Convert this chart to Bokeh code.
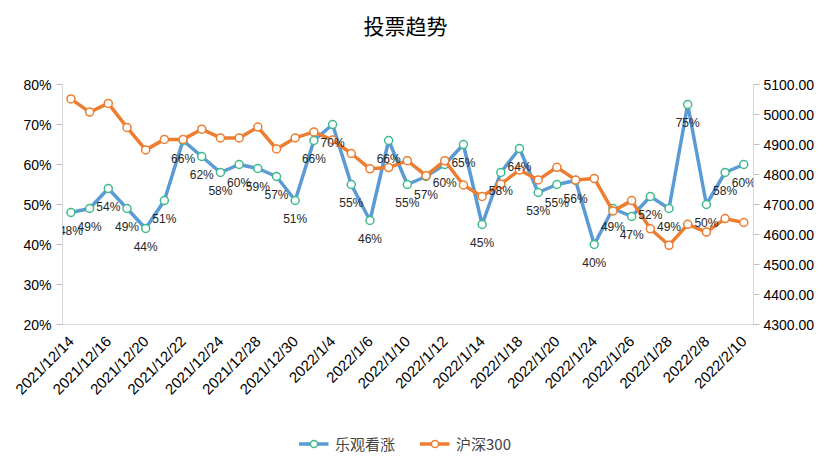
import math
from bokeh.plotting import figure
from bokeh.layouts import column
from bokeh.models import (ColumnDataSource, Range1d, LinearAxis, FixedTicker, Div,
                          PrintfTickFormatter, NumeralTickFormatter, LabelSet, Legend, LegendItem)
from bokeh.core.properties import value
from bokeh.embed import file_html
from bokeh.resources import INLINE

dates = ["2021/12/14", "2021/12/15", "2021/12/16", "2021/12/17", "2021/12/20", "2021/12/21",
         "2021/12/22", "2021/12/23", "2021/12/24", "2021/12/27", "2021/12/28", "2021/12/29",
         "2021/12/30", "2021/12/31", "2022/1/4", "2022/1/5", "2022/1/6", "2022/1/7",
         "2022/1/10", "2022/1/11", "2022/1/12", "2022/1/13", "2022/1/14", "2022/1/17",
         "2022/1/18", "2022/1/19", "2022/1/20", "2022/1/21", "2022/1/24", "2022/1/25",
         "2022/1/26", "2022/1/27", "2022/1/28", "2022/2/7", "2022/2/8", "2022/2/9", "2022/2/10"]

bullish = [48, 49, 54, 49, 44, 51, 66, 62, 58, 60, 59, 57, 51, 66, 70, 55, 46, 66, 55,
           57, 60, 65, 45, 58, 64, 53, 55, 56, 40, 49, 47, 52, 49, 75, 50, 58, 60]

hs300 = [5052, 5008, 5037, 4957, 4882, 4917, 4917, 4951, 4922, 4922, 4958, 4885, 4922,
         4942, 4915, 4870, 4819, 4823, 4846, 4796, 4846, 4765, 4727, 4768, 4815, 4782,
         4824, 4782, 4787, 4678, 4713, 4619, 4564, 4634, 4608, 4653, 4640]

title_text = "投票趋势"
series_names = ["乐观看涨", "沪深300"]
left_ticks = [20, 30, 40, 50, 60, 70, 80]
right_ticks = [4300, 4400, 4500, 4600, 4700, 4800, 4900, 5000, 5100]

BLUE = "#5B9BD5"
ORANGE = "#ED7D31"
GREEN = "#3DBA8A"
CJK = "Noto Sans CJK SC"
LAT = "Liberation Sans"

idx = list(range(len(dates)))
src = ColumnDataSource(dict(x=idx, d=dates, b=bullish, h=hs300, lbl=[f"{v}%" for v in bullish]))

title_div = Div(text=title_text, width=811, height=50, margin=0,
                styles={"text-align": "center", "font-size": "21px", "font-family": CJK,
                        "color": "#000000", "line-height": "50px", "width": "811px"})

p = figure(frame_width=691, frame_height=240, x_range=Range1d(-0.45, len(dates) - 0.48),
           y_range=Range1d(20, 80), output_backend="svg", toolbar_location=None)
p.min_border_left = 62
p.min_border_right = 56
p.min_border_top = 34
p.min_border_bottom = 105
p.margin = 0
p.extra_y_ranges = {"hs": Range1d(4300, 5100)}

p.outline_line_color = None
p.xgrid.grid_line_color = None
p.ygrid.grid_line_color = None

# left axis
p.yaxis.ticker = FixedTicker(ticks=left_ticks)
p.yaxis.formatter = PrintfTickFormatter(format="%d%%")
p.yaxis.axis_line_color = "#D9D9D9"
p.yaxis.major_tick_line_color = "#BFBFBF"
p.yaxis.major_tick_out = 6
p.yaxis.major_tick_in = 0
p.yaxis.minor_tick_line_color = None
p.yaxis.major_label_text_font = LAT
p.yaxis.major_label_text_font_size = "14px"
p.yaxis.major_label_text_color = "#000000"
p.yaxis.major_label_standoff = 5

# right axis
ax2 = LinearAxis(y_range_name="hs", ticker=FixedTicker(ticks=right_ticks),
                 formatter=NumeralTickFormatter(format="0.00"))
ax2.axis_line_color = "#D9D9D9"
ax2.major_tick_line_color = "#BFBFBF"
ax2.major_tick_out = 6
ax2.major_tick_in = 0
ax2.minor_tick_line_color = None
ax2.major_label_text_font = LAT
ax2.major_label_text_font_size = "14px"
ax2.major_label_text_color = "#000000"
ax2.major_label_standoff = 4
p.add_layout(ax2, "right")

# x axis: every other date labelled
p.xaxis.ticker = FixedTicker(ticks=[i for i in idx if i % 2 == 0])
p.xaxis.major_label_overrides = {i: dates[i] for i in idx if i % 2 == 0}
p.xaxis.axis_line_color = "#D9D9D9"
p.xaxis.major_tick_line_color = None
p.xaxis.minor_tick_line_color = None
p.xaxis.major_label_orientation = math.pi / 4
p.xaxis.major_label_text_font = LAT
p.xaxis.major_label_text_font_size = "15px"
p.xaxis.major_label_text_color = "#000000"
p.xaxis.major_label_standoff = 8

l1 = p.line("x", "b", source=src, line_color=BLUE, line_width=3.5)
m1 = p.scatter("x", "b", source=src, size=8, fill_color="white", line_color=GREEN, line_width=1.5)
l2 = p.line("x", "h", source=src, y_range_name="hs", line_color=ORANGE, line_width=3.5)
m2 = p.scatter("x", "h", source=src, y_range_name="hs", size=8, fill_color="white",
               line_color=ORANGE, line_width=1.5)

labels = LabelSet(x="x", y="b", text="lbl", source=src, y_offset=-18, text_align="center",
                  text_baseline="middle", text_font=value(LAT), text_font_size=value("12px"),
                  text_color="#262626")
p.add_layout(labels)

# legend strip below the chart: same series drawn with ranges that keep them out of view,
# so only their legend glyphs show
lf = figure(width=811, height=28, x_range=Range1d(-1000, -999), y_range=Range1d(-1000, -999),
            output_backend="svg", toolbar_location=None,
            x_axis_location=None, y_axis_location=None)
lf.min_border = 0
lf.margin = 0
lf.outline_line_color = None
lf.xgrid.grid_line_color = None
lf.ygrid.grid_line_color = None
k1 = lf.line("x", "b", source=src, line_color=BLUE, line_width=3.5)
k1m = lf.scatter("x", "b", source=src, size=8, fill_color="white", line_color=GREEN, line_width=1.5)
k2 = lf.line("x", "h", source=src, line_color=ORANGE, line_width=3.5)
k2m = lf.scatter("x", "h", source=src, size=8, fill_color="white", line_color=ORANGE, line_width=1.5)

legend = Legend(items=[LegendItem(label=series_names[0], renderers=[k1, k1m]),
                       LegendItem(label=series_names[1], renderers=[k2, k2m])],
                orientation="horizontal", location="center", border_line_color=None,
                background_fill_alpha=0, padding=2, margin=0,
                label_text_font=CJK, label_text_font_size="15px", glyph_width=30,
                glyph_height=18, label_height=18, label_standoff=7, spacing=24)
lf.add_layout(legend)

layout = column(title_div, p, lf, spacing=0)
open("out.html", "w").write(file_html(layout, INLINE))
